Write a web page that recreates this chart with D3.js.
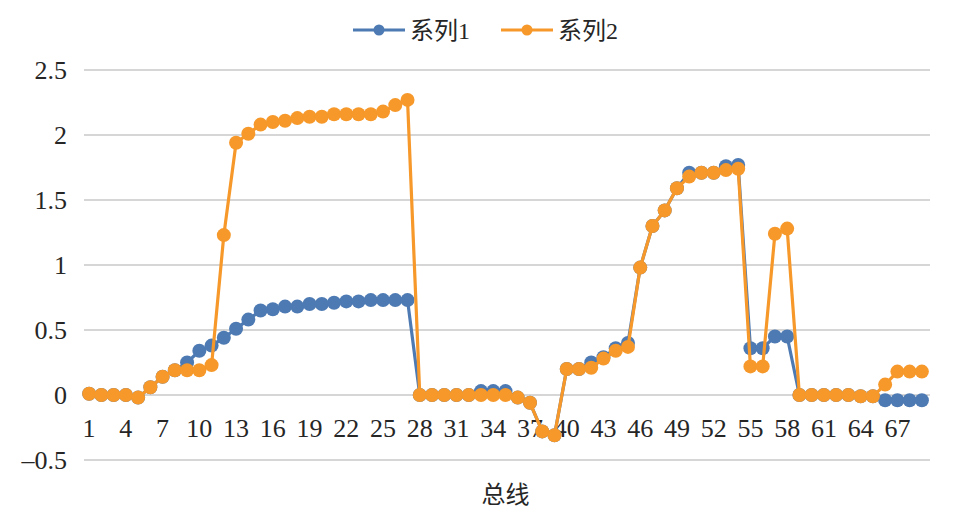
<!DOCTYPE html>
<html>
<head>
  <meta charset="utf-8">
  <title>系列1 / 系列2</title>
  <style type="text/css">
    body { margin: 0; background: #fff; }
    svg { display: block; }
    .num { font-family: "Liberation Serif", "Times New Roman", serif; }
    .cjk { font-family: "Liberation Serif", "Noto Sans CJK SC", serif; }
  </style>
</head>
<body>
<svg id="vis" width="958" height="532"></svg>

<script src="https://cdnjs.cloudflare.com/ajax/libs/d3/7.8.5/d3.min.js"></script>
<script type="text/javascript">
  // categories along the x axis (1..69)
  var categories = [1, 2, 3, 4, 5, 6, 7, 8, 9, 10, 11, 12, 13, 14, 15, 16, 17, 18, 19, 20,
    21, 22, 23, 24, 25, 26, 27, 28, 29, 30, 31, 32, 33, 34, 35, 36, 37, 38, 39, 40,
    41, 42, 43, 44, 45, 46, 47, 48, 49, 50, 51, 52, 53, 54, 55, 56, 57, 58, 59, 60,
    61, 62, 63, 64, 65, 66, 67, 68, 69]

  var xTickLabels = [1, 4, 7, 10, 13, 16, 19, 22, 25, 28, 31, 34, 37, 40, 43, 46, 49, 52, 55, 58, 61, 64, 67]
  var yTicks = [-0.5, 0, 0.5, 1, 1.5, 2, 2.5]

  var seriesNames = ['系列1', '系列2']

  var series1 = [0.01, 0, 0, 0, -0.02, 0.06, 0.14, 0.19, 0.25, 0.34,
    0.38, 0.44, 0.51, 0.58, 0.65, 0.66, 0.68, 0.68, 0.70, 0.70,
    0.71, 0.72, 0.72, 0.73, 0.73, 0.73, 0.73, 0, 0, 0,
    0, 0, 0.03, 0.03, 0.03, -0.02, -0.06, -0.28, -0.31, 0.20,
    0.20, 0.25, 0.29, 0.36, 0.40, 0.98, 1.30, 1.42, 1.59, 1.71,
    1.71, 1.71, 1.76, 1.77, 0.36, 0.36, 0.45, 0.45, 0, 0,
    0, 0, 0, -0.01, -0.01, -0.04, -0.04, -0.04, -0.04]

  var series2 = [0.01, 0, 0, 0, -0.02, 0.06, 0.14, 0.19, 0.19, 0.19,
    0.23, 1.23, 1.94, 2.01, 2.08, 2.10, 2.11, 2.13, 2.14, 2.14,
    2.16, 2.16, 2.16, 2.16, 2.18, 2.23, 2.27, 0, 0, 0,
    0, 0, 0, 0, 0, -0.02, -0.06, -0.28, -0.31, 0.20,
    0.20, 0.21, 0.28, 0.34, 0.37, 0.98, 1.30, 1.42, 1.59, 1.68,
    1.71, 1.71, 1.73, 1.74, 0.22, 0.22, 1.24, 1.28, 0, 0,
    0, 0, 0, -0.01, -0.01, 0.08, 0.18, 0.18, 0.18]

  var colors = ['#4d7ab3', '#f6982a']

  var svg = d3.select('#vis')
  var margin = { top: 70, right: 30, bottom: 72, left: 83 }
  var width = +svg.attr('width')
  var height = +svg.attr('height')
  var serif = '"Liberation Serif", "Times New Roman", serif'

  var xScale = d3.scaleBand()
    .domain(categories)
    .range([margin.left, width - margin.right])

  var yScale = d3.scaleLinear()
    .domain([-0.5, 2.5])
    .range([height - margin.bottom, margin.top])

  var xc = function(c) { return xScale(c) + xScale.bandwidth() / 2 }

  // horizontal gridlines
  svg.append('g')
    .selectAll('line')
    .data(yTicks)
    .join('line')
      .attr('x1', margin.left + 1)
      .attr('x2', width - margin.right + 2)
      .attr('y1', function(d) { return yScale(d) })
      .attr('y2', function(d) { return yScale(d) })
      .attr('stroke', '#c9c9c9')
      .attr('stroke-width', 1.3)

  // y axis labels
  var yAxis = d3.axisLeft(yScale)
    .tickValues(yTicks)
    .tickSize(0)
    .tickPadding(0)
    .tickFormat(function(d) { return d < 0 ? '\u2013' + Math.abs(d) : d })
  var gy = svg.append('g')
    .attr('transform', 'translate(' + (margin.left - 16) + ',0)')
    .call(yAxis)
    .attr('font-family', serif)
    .attr('font-size', 26)
  gy.select('.domain').remove()
  gy.selectAll('text')
    .attr('class', 'num')
    .attr('fill', '#262626')
    .attr('dy', '0.33em')

  // x category labels, sitting just under the zero line
  var xAxis = d3.axisBottom(xScale)
    .tickValues(xTickLabels)
    .tickSize(0)
    .tickPadding(0)
  var gx = svg.append('g')
    .attr('transform', 'translate(0,' + (yScale(0) + 42) + ')')
    .call(xAxis)
    .attr('font-family', serif)
    .attr('font-size', 26)
  gx.select('.domain').remove()
  gx.selectAll('text')
    .attr('class', 'num')
    .attr('fill', '#262626')
    .attr('dy', 0)
    .attr('y', 0)

  // axis title
  svg.append('text')
    .attr('class', 'cjk')
    .attr('x', (margin.left + width - margin.right) / 2)
    .attr('y', 503)
    .attr('text-anchor', 'middle')
    .attr('font-size', 24)
    .attr('fill', '#262626')
    .text('总线')

  // series: line then markers, series 2 drawn on top
  var line = d3.line()
    .x(function(d, i) { return xc(categories[i]) })
    .y(function(d) { return yScale(d) })

  var allSeries = [series1, series2]
  allSeries.forEach(function(values, s) {
    var g = svg.append('g')
    g.append('path')
      .datum(values)
      .attr('d', line)
      .attr('fill', 'none')
      .attr('stroke', colors[s])
      .attr('stroke-width', 3.2)
      .attr('stroke-linejoin', 'round')
    g.selectAll('circle')
      .data(values)
      .join('circle')
        .attr('cx', function(d, i) { return xc(categories[i]) })
        .attr('cy', function(d) { return yScale(d) })
        .attr('r', 7)
        .attr('fill', colors[s])
  })

  // legend
  var legend = svg.append('g')
  var legendX = [353, 501]
  seriesNames.forEach(function(name, s) {
    var lg = legend.append('g').attr('transform', 'translate(' + legendX[s] + ',30)')
    lg.append('line')
      .attr('x1', 0).attr('x2', 52)
      .attr('y1', 0).attr('y2', 0)
      .attr('stroke', colors[s])
      .attr('stroke-width', 3.2)
    lg.append('circle')
      .attr('cx', 26).attr('cy', 0)
      .attr('r', 5.5)
      .attr('fill', colors[s])
    lg.append('text')
      .attr('class', 'cjk')
      .attr('x', 57)
      .attr('y', 0)
      .attr('dy', '0.36em')
      .attr('font-size', 24)
      .attr('fill', '#262626')
      .text(name)
  })
</script>
</body>
</html>
